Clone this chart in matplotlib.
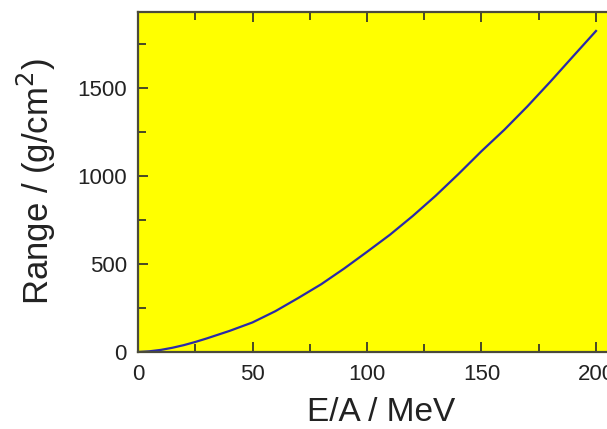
import matplotlib
matplotlib.use("Agg")
import matplotlib.pyplot as plt
from matplotlib.ticker import MultipleLocator

# Range of the ion in the absorber vs. kinetic energy per nucleon
energy_per_nucleon = [0, 5, 10, 15, 20, 25, 30, 40, 50, 60, 70, 80, 90, 100,
                      110, 120, 130, 140, 150, 160, 170, 180, 190, 200]
range_gcm2 = [0, 4, 12, 24, 39, 57, 77, 120, 168, 232, 307, 385, 474, 569,
              666, 773, 888, 1012, 1141, 1263, 1395, 1535, 1680, 1824]

x_ticks = [0, 50, 100, 150, 200]
y_ticks = [0, 500, 1000, 1500]

plt.rcParams['font.family'] = ['Liberation Sans', 'DejaVu Sans']

W, H = 607, 429
fig = plt.figure(figsize=(W / 100, H / 100), dpi=100)
fig.patch.set_facecolor('white')

x_max = 220
left_px, bottom_px, top_px = 138, 352, 12
px_per_unit = 458 / 200
ax_w = x_max * px_per_unit
ax = fig.add_axes([left_px / W, (H - bottom_px) / H,
                   ax_w / W, (bottom_px - top_px) / H])
ax.set_facecolor('#ffff00')

ax.plot(energy_per_nucleon, range_gcm2, color='#2a2aa8', lw=1.6)

ax.set_xlim(0, x_max)
ax.set_ylim(0, (bottom_px - top_px) / 88 * 500)

ax.set_xticks(x_ticks)
ax.set_yticks(y_ticks)
ax.xaxis.set_minor_locator(MultipleLocator(25))
ax.yaxis.set_minor_locator(MultipleLocator(250))

ax.tick_params(which='both', direction='in', top=True, right=True,
               color='#3a3a2a', width=1.3)
ax.tick_params(which='major', length=7.5, labelsize=16, labelcolor='#222222')
ax.tick_params(which='minor', length=5.5)
ax.tick_params(axis='x', which='major', pad=9)
ax.tick_params(axis='y', which='major', pad=8)

for s in ax.spines.values():
    s.set_color('#4a4a3a')
    s.set_linewidth(1.6)

ax.set_xlabel('E/A / MeV', fontsize=24, color='#222222')
ax.xaxis.set_label_coords((381 - left_px) / ax_w, -0.133)
ax.xaxis.label.set_verticalalignment('top')

ax.set_ylabel('Range / (g/cm$^2$)', fontsize=25, color='#222222')
ax.yaxis.set_label_coords(-(left_px - 58) / ax_w, 0.5)

fig.savefig('out.png', dpi=100, facecolor='white')
